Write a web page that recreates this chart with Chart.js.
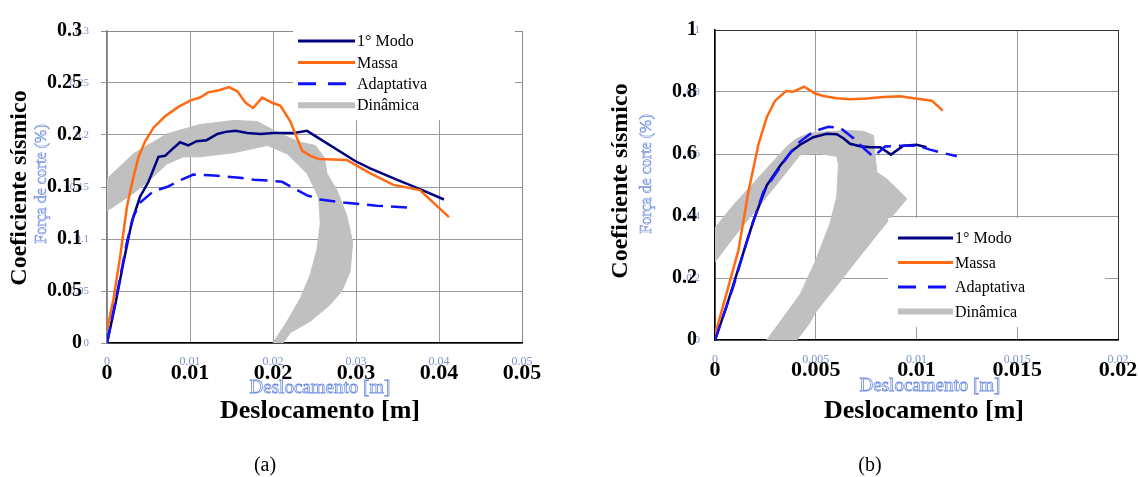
<!DOCTYPE html>
<html>
<head>
<meta charset="utf-8">
<script src="https://cdn.jsdelivr.net/npm/chart.js@4"></script>
<style>
    html, body { margin: 0; padding: 0; background: #fff; width: 1139px; height: 477px; overflow: hidden; }
    .pane { position: absolute; top: 0; }
    #paneA { left: 0; }
    #paneB { left: 570px; }
    .cap { position: absolute; top: 452px; width: 40px; text-align: center; font: 20px "Liberation Serif", "Times New Roman", serif; line-height: 24px; }
</style>
</head>
<body>
<div class="pane" id="paneA"><canvas id="chartA" width="560" height="477"></canvas></div>
<div class="pane" id="paneB"><canvas id="chartB" width="600" height="477"></canvas></div>
<div class="cap" style="left:245px">(a)</div>
<div class="cap" style="left:850px">(b)</div>
<script>
const FONT = '"Liberation Serif", "Times New Roman", serif';

const seriesNames = ['1° Modo', 'Massa', 'Adaptativa', 'Dinâmica'];

// ---- panel (a) ----
const xTicksA = [0, 0.01, 0.02, 0.03, 0.04, 0.05];
const xLabelsA = ['0', '0.01', '0.02', '0.03', '0.04', '0.05'];
const yTicksA = [0, 0.05, 0.1, 0.15, 0.2, 0.25, 0.3];
const yLabelsA = ['0', '0.05', '0.1', '0.15', '0.2', '0.25', '0.3'];

const modoA = [[0, 0], [0.001, 0.037], [0.002, 0.078], [0.003, 0.117], [0.004, 0.141], [0.005, 0.155],
    [0.0062, 0.179], [0.007, 0.180], [0.0078, 0.186], [0.0088, 0.193], [0.0098, 0.190], [0.0108, 0.194],
    [0.012, 0.195], [0.0133, 0.201], [0.0143, 0.203], [0.0155, 0.204], [0.0169, 0.202], [0.0185, 0.201],
    [0.0201, 0.202], [0.0225, 0.202], [0.0241, 0.204], [0.0255, 0.197], [0.0299, 0.175], [0.0317, 0.168],
    [0.0349, 0.157], [0.0377, 0.148], [0.0406, 0.138]];
const massaA = [[0, 0.012], [0.0008, 0.043], [0.0016, 0.084], [0.0024, 0.131], [0.0032, 0.160], [0.0038, 0.179],
    [0.0046, 0.194], [0.0056, 0.207], [0.007, 0.218], [0.0086, 0.227], [0.010, 0.233], [0.0112, 0.236],
    [0.0122, 0.241], [0.0135, 0.243], [0.0147, 0.246], [0.0157, 0.242], [0.0167, 0.231], [0.0176, 0.226],
    [0.0187, 0.236], [0.0199, 0.231], [0.0209, 0.228], [0.0221, 0.213], [0.0229, 0.197], [0.0235, 0.185],
    [0.0245, 0.180], [0.0255, 0.177], [0.0289, 0.176], [0.0315, 0.164], [0.0345, 0.152], [0.0377, 0.147],
    [0.0412, 0.121]];
const adaptA = [[0, 0], [0.0012, 0.047], [0.0024, 0.097], [0.0032, 0.122], [0.004, 0.135], [0.0056, 0.146],
    [0.0072, 0.150], [0.009, 0.157], [0.0104, 0.162], [0.0129, 0.161], [0.016, 0.159], [0.0177, 0.157],
    [0.0197, 0.156], [0.0211, 0.155], [0.0229, 0.147], [0.0241, 0.142], [0.0257, 0.138], [0.0285, 0.135],
    [0.0325, 0.132], [0.0365, 0.130]];
// outline of the dynamic envelope (closed shape)
const dinA = [[0, 0.158], [0.0032, 0.182], [0.0072, 0.201], [0.0112, 0.210], [0.0153, 0.214], [0.0181, 0.213],
    [0.0209, 0.201], [0.0233, 0.193], [0.0251, 0.190], [0.0262, 0.178], [0.0265, 0.163], [0.0277, 0.147],
    [0.0289, 0.122], [0.0296, 0.097], [0.0293, 0.069], [0.0283, 0.050], [0.0269, 0.037], [0.0245, 0.021],
    [0.0221, 0.010], [0.0212, 0], [0.0200, 0], [0.0217, 0.021], [0.0233, 0.043], [0.0245, 0.066],
    [0.0253, 0.090], [0.0257, 0.115], [0.0255, 0.140], [0.0241, 0.163], [0.0217, 0.182], [0.0193, 0.190],
    [0.0153, 0.183], [0.0112, 0.179], [0.0092, 0.179], [0.0072, 0.172], [0.0052, 0.157], [0.0032, 0.144],
    [0, 0.127]];

// ---- panel (b) ----
const xTicksB = [0, 0.005, 0.01, 0.015, 0.02];
const xLabelsB = ['0', '0.005', '0.01', '0.015', '0.02'];
const yTicksB = [0, 0.2, 0.4, 0.6, 0.8, 1];
const yLabelsB = ['0', '0.2', '0.4', '0.6', '0.8', '1'];

const modoB = [[0, 0], [0.00058, 0.110], [0.00124, 0.247], [0.0019, 0.383], [0.00257, 0.499], [0.00323, 0.562],
    [0.00381, 0.609], [0.00422, 0.630], [0.00488, 0.654], [0.00555, 0.665], [0.00604, 0.664], [0.00637, 0.651],
    [0.0067, 0.633], [0.0072, 0.625], [0.0077, 0.622], [0.0082, 0.622], [0.00873, 0.598], [0.00935, 0.627],
    [0.01001, 0.630], [0.0105, 0.622]];
const massaB = [[0, 0.016], [0.00058, 0.152], [0.00116, 0.289], [0.00166, 0.478], [0.00215, 0.630],
    [0.00257, 0.719], [0.00298, 0.772], [0.00353, 0.803], [0.00389, 0.801], [0.00442, 0.817], [0.00497, 0.795],
    [0.00538, 0.787], [0.00604, 0.780], [0.0067, 0.777], [0.00753, 0.779], [0.00836, 0.784], [0.00919, 0.786],
    [0.00985, 0.780], [0.01076, 0.772], [0.0113, 0.740]];
const adaptB = [[0, 0], [0.00091, 0.173], [0.00174, 0.352], [0.0024, 0.478], [0.00306, 0.541], [0.00373, 0.604],
    [0.00422, 0.640], [0.00488, 0.672], [0.00563, 0.688], [0.00621, 0.685], [0.00687, 0.651], [0.00737, 0.619],
    [0.00786, 0.591], [0.00844, 0.624], [0.00935, 0.627], [0.01001, 0.627], [0.01067, 0.614], [0.01126, 0.604],
    [0.012, 0.593]];
const dinB = [[0, 0.362], [0.00091, 0.435], [0.00223, 0.529], [0.00356, 0.624], [0.00406, 0.650], [0.00472, 0.668],
    [0.00654, 0.676], [0.00737, 0.673], [0.00787, 0.660], [0.0079, 0.624], [0.00803, 0.541], [0.00853, 0.519],
    [0.00952, 0.456], [0.00819, 0.352], [0.0050, 0.090], [0.00465, 0.050], [0.00406, 0], [0.00257, 0],
    [0.00422, 0.147], [0.00497, 0.252], [0.00571, 0.377], [0.00604, 0.461], [0.00613, 0.566], [0.00604, 0.592],
    [0.00505, 0.603], [0.00422, 0.597], [0.00339, 0.529], [0.00223, 0.435], [0.00091, 0.330], [0, 0.252]];

// line styles, same order as seriesNames
const styles = [
    { color: '#000080', width: 2.5, dash: [] },
    { color: '#ff6a13', width: 2.5, dash: [] },
    { color: '#1010ff', width: 2.5, dash: [16, 8] },
    { color: '#c0c0c0', width: 6, dash: [] }
];

const toXY = pts => pts.map(p => ({ x: p[0], y: p[1] }));

function lineSet(i, pts, order) {
    const s = styles[i];
    return {
        label: seriesNames[i], data: toXY(pts), borderColor: s.color, borderWidth: s.width,
        borderDash: s.dash, pointRadius: 0, tension: 0, fill: false, order: order
    };
}

function bandSet(pts) {
    return {
        label: seriesNames[3], data: toXY(pts), borderColor: '#c0c0c0', backgroundColor: '#c0c0c0',
        borderWidth: 1, pointRadius: 0, tension: 0, fill: 'shape', order: 9
    };
}

// white legend box drawn inside the plot
const legendBox = {
    id: 'legendBox',
    afterDatasetsDraw(chart, args, o) {
        const ctx = chart.ctx;
        ctx.save();
        ctx.fillStyle = '#fff';
        ctx.fillRect(o.box[0], o.box[1], o.box[2], o.box[3]);
        seriesNames.forEach((name, i) => {
            const y = o.y + i * o.dy;
            const s = styles[i];
            ctx.beginPath();
            ctx.strokeStyle = s.color;
            ctx.lineWidth = i === 3 ? 6 : 3;
            ctx.setLineDash(i === 2 ? [18, 12] : []);
            ctx.moveTo(o.x0, y);
            ctx.lineTo(o.x1, y);
            ctx.stroke();
            ctx.setLineDash([]);
            ctx.fillStyle = '#000';
            ctx.font = '16px ' + FONT;
            ctx.textAlign = 'left';
            ctx.textBaseline = 'middle';
            ctx.fillText(name, o.x1 + 2, y + 1);
        });
        ctx.restore();
    }
};

// axis titles plus the faint duplicated labels seen in the source figure
const decor = {
    id: 'decor',
    beforeDraw(chart, args, o) {
        const ctx = chart.ctx, xs = chart.scales.x, ys = chart.scales.y;
        ctx.save();
        ctx.fillStyle = '#7f93cf';
        ctx.font = '12px ' + FONT;
        ctx.textBaseline = 'middle';
        ctx.textAlign = 'center';
        o.xTicks.forEach((v, i) => ctx.fillText(o.xLabels[i], xs.getPixelForValue(v), o.ghostTickY));
        ctx.textAlign = 'right';
        ctx.font = '11px ' + FONT;
        o.yTicks.forEach((v, i) => ctx.fillText(o.yLabels[i], o.ghostTickX, ys.getPixelForValue(v)));

        ctx.strokeStyle = '#6f8ee0';
        ctx.lineWidth = 0.8;
        ctx.textAlign = 'center';
        ctx.font = '19px ' + FONT;
        ctx.strokeText('Deslocamento [m]', o.gx[0], o.gx[1]);
        ctx.translate(o.gy[0], o.gy[1]);
        ctx.rotate(-Math.PI / 2);
        ctx.font = '16px ' + FONT;
        ctx.lineWidth = 0.6;
        ctx.strokeText('Força de corte (%)', 0, 0);
        ctx.restore();
    },
    afterDraw(chart, args, o) {
        const ctx = chart.ctx;
        ctx.save();
        ctx.fillStyle = '#000';
        ctx.textAlign = 'center';
        ctx.textBaseline = 'middle';
        ctx.font = 'bold 26px ' + FONT;
        ctx.fillText('Deslocamento [m]', o.tx[0], o.tx[1]);
        ctx.translate(o.ty[0], o.ty[1]);
        ctx.rotate(-Math.PI / 2);
        ctx.font = 'bold 24px ' + FONT;
        ctx.fillText('Coeficiente sísmico', 0, 0);
        ctx.restore();
    }
};

function makeChart(id, c) {
    return new Chart(document.getElementById(id), {
        type: 'line',
        data: { datasets: c.datasets },
        options: {
            responsive: false,
            animation: false,
            events: [],
            layout: { padding: c.padding },
            plugins: {
                legend: { display: false },
                tooltip: { enabled: false },
                legendBox: c.legend,
                decor: c.decor
            },
            scales: {
                x: {
                    type: 'linear', min: c.xTicks[0], max: c.xTicks[c.xTicks.length - 1],
                    afterBuildTicks: s => { s.ticks = c.xTicks.map(v => ({ value: v })); },
                    afterFit: s => { s.height = c.xHeight; },
                    grid: {
                        color: ctx => ctx.index === c.xTicks.length - 1 ? c.edgeColor : '#9a9a9a',
                        drawTicks: false
                    },
                    border: { color: '#000', width: 1.5 },
                    ticks: {
                        padding: 17, color: '#000', maxRotation: 0, autoSkip: false,
                        font: { family: FONT, size: 22, weight: 'bold' },
                        callback: (v, i) => c.xLabels[i]
                    }
                },
                y: {
                    type: 'linear', min: c.yTicks[0], max: c.yTicks[c.yTicks.length - 1],
                    afterBuildTicks: s => { s.ticks = c.yTicks.map(v => ({ value: v })); },
                    afterFit: s => { s.width = c.yWidth; },
                    grid: {
                        color: ctx => ctx.index === c.yTicks.length - 1 ? c.edgeColor : '#9a9a9a',
                        drawTicks: c.yTickLen > 0, tickLength: c.yTickLen
                    },
                    border: { color: c.yAxisColor, width: 1.5 },
                    ticks: {
                        padding: c.yPad, color: '#000', autoSkip: false,
                        font: { family: FONT, size: 20, weight: 'bold' },
                        callback: (v, i) => c.yLabels[i]
                    }
                }
            }
        },
        plugins: [decor, legendBox]
    });
}

makeChart('chartA', {
    datasets: [lineSet(0, modoA, 2), lineSet(1, massaA, 1), lineSet(2, adaptA, 0), bandSet(dinA)],
    xTicks: xTicksA, xLabels: xLabelsA, yTicks: yTicksA, yLabels: yLabelsA,
    padding: { top: 25, right: 38, left: 0, bottom: 0 },
    xHeight: 134, yWidth: 107, yTickLen: 6, yPad: 19,
    yAxisColor: '#808080', edgeColor: '#8a8a8a',
    legend: { box: [293, 26, 222, 94], x0: 298, x1: 355, y: 41, dy: 21.4 },
    decor: {
        xTicks: xTicksA, xLabels: xLabelsA, yTicks: yTicksA, yLabels: yLabelsA,
        ghostTickY: 362, ghostTickX: 89, gx: [320, 388], gy: [42, 184],
        tx: [320, 411], ty: [20, 188]
    }
});

makeChart('chartB', {
    datasets: [lineSet(0, modoB, 2), lineSet(1, massaB, 1), lineSet(2, adaptB, 0), bandSet(dinB)],
    xTicks: xTicksB, xLabels: xLabelsB, yTicks: yTicksB, yLabels: yLabelsB,
    padding: { top: 22, right: 52, left: 0, bottom: 0 },
    xHeight: 137, yWidth: 145, yTickLen: 0, yPad: 18,
    yAxisColor: '#000', edgeColor: '#333',
    legend: { box: [318, 218, 217, 109], x0: 328, x1: 383, y: 238, dy: 24.5 },
    decor: {
        xTicks: xTicksB, xLabels: xLabelsB, yTicks: yTicksB, yLabels: yLabelsB,
        ghostTickY: 360, ghostTickX: 130, gx: [360, 386], gy: [77, 174],
        tx: [354, 411], ty: [51, 181]
    }
});
</script>
</body>
</html>
